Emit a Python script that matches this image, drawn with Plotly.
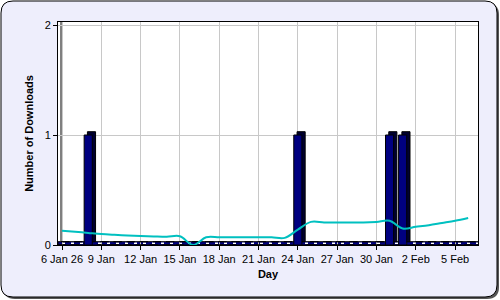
import plotly.graph_objects as go
import pandas as pd

# ---- data ----
days = pd.date_range("2026-01-06", "2026-02-06", freq="D").strftime("%Y-%m-%d").tolist()
downloads = [0, 0, 1, 0, 0, 0, 0, 0, 0, 0, 0, 0, 0, 0, 0, 0, 0, 0, 1, 0, 0, 0, 0, 0, 0, 1, 1, 0, 0, 0, 0, 0]
trend = [0.13, 0.12, 0.11, 0.10, 0.093, 0.087, 0.082, 0.078, 0.075, 0.08, 0.0, 0.07, 0.07, 0.07, 0.07, 0.07,
         0.07, 0.065, 0.14, 0.21, 0.205, 0.205, 0.205, 0.205, 0.21, 0.22, 0.15, 0.165, 0.18, 0.20, 0.22, 0.245]
tick_vals = ["2026-01-06", "2026-01-09", "2026-01-12", "2026-01-15", "2026-01-18", "2026-01-21",
             "2026-01-24", "2026-01-27", "2026-01-30", "2026-02-02", "2026-02-05"]
tick_text = ["6 Jan 26", "9 Jan", "12 Jan", "15 Jan", "18 Jan", "21 Jan",
             "24 Jan", "27 Jan", "30 Jan", "2 Feb", "5 Feb"]
y_ticks = [0, 1, 2]

DAY = 86400000
W = 0.62 * DAY
DEPTH_X = 0.25 * DAY
DEPTH_Y = 0.03

# plot area pixels
L, R, T, B = 58, 478, 22, 245
PW, PH = R - L, B - T
def px(x): return (x - L) / PW
def py(y): return (B - y) / PH

fig = go.Figure()
# 3D side/top of bars
fig.add_trace(go.Bar(x=days, y=downloads, base=[DEPTH_Y] * len(days), width=W,
                     offset=-W / 2 + DEPTH_X, marker=dict(color="#000030", line=dict(color="#000000", width=1)),
                     hoverinfo="skip", showlegend=False))
# front face
fig.add_trace(go.Bar(x=days, y=downloads, width=W, offset=-W / 2,
                     marker=dict(color="#000080", line=dict(color="#000000", width=1)),
                     showlegend=False))
fig.add_trace(go.Scatter(x=days, y=trend, mode="lines",
                         line=dict(color="#00C0C0", width=2, shape="spline", smoothing=1),
                         showlegend=False))

def rr(x0, y0, x1, y1, r):
    return (f"M {px(x0 + r)} {py(y0)} L {px(x1 - r)} {py(y0)} "
            f"Q {px(x1)} {py(y0)} {px(x1)} {py(y0 + r)} L {px(x1)} {py(y1 - r)} "
            f"Q {px(x1)} {py(y1)} {px(x1 - r)} {py(y1)} L {px(x0 + r)} {py(y1)} "
            f"Q {px(x0)} {py(y1)} {px(x0)} {py(y1 - r)} L {px(x0)} {py(y0 + r)} "
            f"Q {px(x0)} {py(y0)} {px(x0 + r)} {py(y0)} Z")

shapes = [
    dict(type="path", xref="paper", yref="paper", path=rr(3, 3, 499, 299, 12),
         fillcolor="#555555", line=dict(width=0), layer="below"),
    dict(type="path", xref="paper", yref="paper", path=rr(1, 1, 497, 297, 12),
         fillcolor="#EEEEFC", line=dict(color="#000000", width=1), layer="below"),
    dict(type="rect", xref="paper", yref="paper", x0=0, x1=1, y0=0, y1=1,
         fillcolor="#FFFFFF", line=dict(width=0), layer="below"),
    # floor band
    dict(type="rect", xref="paper", yref="y", x0=0, x1=1, y0=0, y1=DEPTH_Y,
         fillcolor="#000080", line=dict(color="#000000", width=1), layer="between"),
    dict(type="line", xref="paper", yref="y", x0=px(62), x1=1, y0=DEPTH_Y / 2, y1=DEPTH_Y / 2,
         line=dict(color="#FFFFFF", width=1.5, dash="3px,6px"), layer="between"),
    # back wall left edge
    dict(type="line", xref="paper", yref="paper", x0=px(61), x1=px(61), y0=py(241), y1=1,
         line=dict(color="#000000", width=1), layer="between"),
]

fig.update_layout(
    width=500, height=300,
    margin=dict(l=L, r=500 - R, t=T, b=300 - B, pad=0),
    paper_bgcolor="#FFFFFF", plot_bgcolor="rgba(0,0,0,0)",
    font=dict(family="Liberation Sans, Arial, sans-serif", size=11, color="#000000"),
    barmode="overlay", shapes=shapes,
    xaxis=dict(type="date", range=["2026-01-05 16:40", "2026-02-06 18:00"],
               tickvals=tick_vals, ticktext=tick_text, tickangle=0,
               showgrid=True, gridcolor="#C8C8C8", gridwidth=1,
               showline=True, linecolor="#000000", linewidth=1, mirror=True,
               ticks="outside", ticklen=4, tickcolor="#000000", zeroline=False,
               title=dict(text="<b>Day</b>", standoff=6, font=dict(size=11))),
    yaxis=dict(range=[0, PH / 110], tickvals=y_ticks, ticktext=[str(v) for v in y_ticks],
               showgrid=True, gridcolor="#C8C8C8", gridwidth=1,
               showline=True, linecolor="#000000", linewidth=1, mirror=True,
               ticks="outside", ticklen=4, tickcolor="#000000", zeroline=False,
               title=dict(text="<b>Number of Downloads</b>", standoff=8, font=dict(size=11))),
)

fig.write_html("out.html")
